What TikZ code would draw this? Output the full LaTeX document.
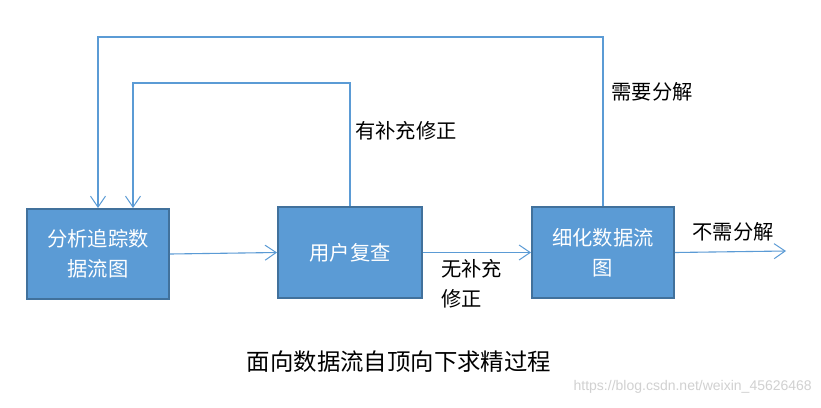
\documentclass[tikz,border=0pt]{standalone}
\usepackage{fontspec}
\setmainfont{Liberation Sans}
\newfontfamily\cjk{Noto Sans CJK SC}
\usetikzlibrary{arrows.meta,calc}
\definecolor{boxfill}{RGB}{91,155,213}
\definecolor{boxedge}{RGB}{65,113,156}
\definecolor{linecol}{RGB}{91,155,213}
\begin{document}
\begin{tikzpicture}[x=1pt,y=-1pt,
  procbox/.style={draw=boxedge,line width=2pt,fill=boxfill,minimum width=142pt,minimum height=90pt,
    text=white,font=\cjk\fontsize{20.3}{30}\selectfont,align=center,inner sep=0pt},
  flow/.style={draw=linecol,line width=1.1pt,-{Straight Barb[length=11pt,width=15pt,line width=1pt]}},
  lab/.style={font=\cjk\fontsize{20.3}{30}\selectfont,text=black,inner sep=0pt}]
\useasboundingbox (0,0) rectangle (821,407);
\fill[white] (0,0) rectangle (821,407);
\node[procbox] (b1) at (98,254) {分析追踪数\\据流图};
\node[procbox,minimum width=144pt,minimum height=91pt] (b2) at (350,252.5) {用户复查};
\node[procbox,minimum height=91pt] (b3) at (603,252.5) {细化数据流\\图};
\coordinate (outer) at (98,37);
\coordinate (inner) at (133,83);
\coordinate (out) at (786,251);
\draw[flow] (b1.east) -- (b2.west);
\draw[flow] (b2.east) -- (b3.west);
\draw[flow] (b3.east) -- (out);
\draw[flow] (b3.north) |- (outer) -- (b1.north);
\draw[flow] (b2.north) |- (inner) -- (inner |- b1.north);
\node[lab] (l1) at (406,131) {有补充修正};
\node[lab] (l2) at (652,92) {需要分解};
\node[lab] (l3) at (733,232) {不需分解};
\node[lab,anchor=north west,align=left] (l4) at (441,259) {无补充\\修正};
\node[font=\cjk\fontsize{23.4}{27}\selectfont,inner sep=0pt] (title) at (399,362) {面向数据流自顶向下求精过程};
\node[font=\fontsize{14}{16}\selectfont,text=black!18,anchor=east,inner sep=0pt] (wm) at (812,387) {https://blog.csdn.net/weixin\_45626468};
\end{tikzpicture}
\end{document}
